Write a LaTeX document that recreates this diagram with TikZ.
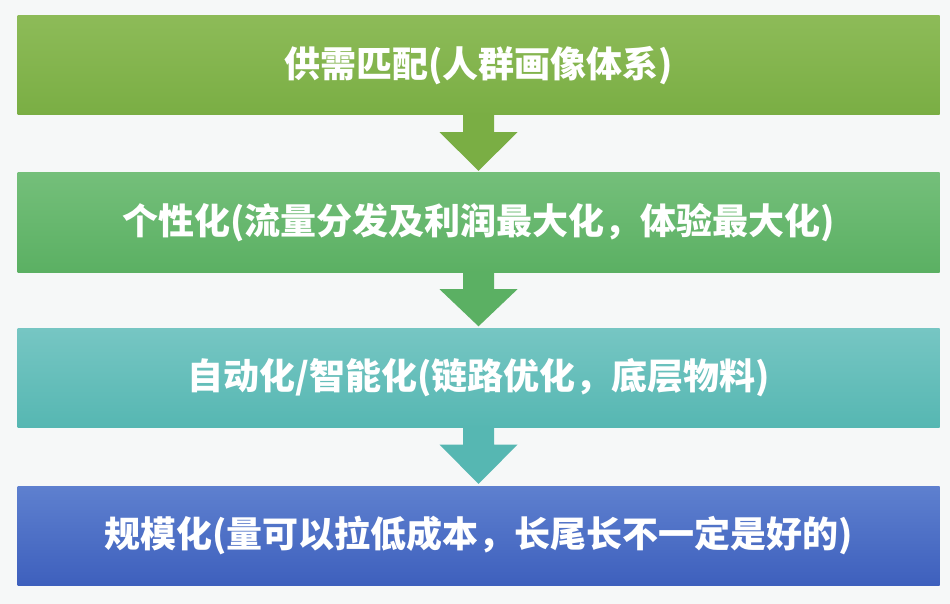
\documentclass[tikz,border=0pt]{standalone}
\usepackage{fontspec}
\newfontfamily\cjk{Noto Sans CJK SC}
\definecolor{bgc}{HTML}{F6F8F8}
\definecolor{gA}{HTML}{8DBB58}\definecolor{gAd}{HTML}{7AAE44}
\definecolor{gB}{HTML}{74BF7A}\definecolor{gBd}{HTML}{5BB063}
\definecolor{gC}{HTML}{76C6C3}\definecolor{gCd}{HTML}{56B7B2}
\definecolor{gD}{HTML}{5E80CF}\definecolor{gDd}{HTML}{3E60BD}
\tikzset{
  stagebox/.style={minimum width=922pt, minimum height=99pt, inner sep=0pt,
    text=white, font=\cjk\bfseries\fontsize{36}{36}\selectfont},
}
\usetikzlibrary{calc,positioning}
% down arrow from the bottom of #1 to the top of #2
\newcommand\flowdown[3]{%
  \fill[#3] ($(#1.south)+(-15.5,0)$) -- ($(#1.south)+(15.5,0)$) --
    ($(#1.south)+(15.5,17)$) -- ($(#1.south)+(39,17)$) -- ($(#2.north)+(0,-2)$) --
    ($(#1.south)+(-39,17)$) -- ($(#1.south)+(-15.5,17)$) -- cycle;}
\begin{document}
\begin{tikzpicture}[x=1pt,y=-1pt]
  \fill[bgc] (0,0) rectangle (950,604);
  \useasboundingbox (0,0) rectangle (950,604);
  \node[stagebox, top color=gA, bottom color=gAd] (supply) at (478.5,65.5) {供需匹配(人群画像体系)};
  \node[stagebox, top color=gB, bottom color=gBd] (personal) at (478.5,222.5) {个性化(流量分发及利润最大化，体验最大化)};
  \node[stagebox, top color=gC, bottom color=gCd] (auto) at (478.5,378) {自动化/智能化(链路优化，底层物料)};
  \node[stagebox, top color=gD, bottom color=gDd] (scale) at (478.5,535.5) {规模化(量可以拉低成本，长尾长不一定是好的)};
  \flowdown{supply}{personal}{gAd}
  \flowdown{personal}{auto}{gBd}
  \flowdown{auto}{scale}{gCd}
\end{tikzpicture}
\end{document}
